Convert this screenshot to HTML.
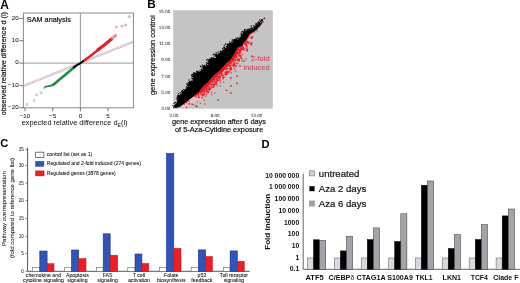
<!DOCTYPE html>
<html><head><meta charset="utf-8"><style>
html,body{margin:0;padding:0;background:#fff;width:520px;height:283px;overflow:hidden}
svg{display:block;font-family:"Liberation Sans", sans-serif;will-change:transform;filter:blur(0.3px)}
</style></head><body><svg width="520" height="283" viewBox="0 0 520 283"><rect x="0" y="0" width="520" height="283" fill="#fff"/><text x="0.20" y="8.60" font-size="12.0" text-anchor="start" font-weight="bold">A</text><rect x="23.40" y="13.00" width="110.00" height="94.80" fill="none" stroke="#8a8a8a" stroke-width="1"/><line x1="80.40" y1="13.00" x2="80.40" y2="107.80" stroke="#8a8a8a" stroke-width="0.9"/><line x1="23.40" y1="63.10" x2="133.40" y2="63.10" stroke="#8a8a8a" stroke-width="0.9"/><line x1="19.30" y1="18.40" x2="23.40" y2="18.40" stroke="#555" stroke-width="0.8"/><text x="18.60" y="19.70" font-size="6.2" text-anchor="end" fill="#222" stroke="#222" stroke-width="0.06">20</text><line x1="19.30" y1="40.75" x2="23.40" y2="40.75" stroke="#555" stroke-width="0.8"/><text x="18.60" y="42.05" font-size="6.2" text-anchor="end" fill="#222" stroke="#222" stroke-width="0.06">10</text><line x1="19.30" y1="63.10" x2="23.40" y2="63.10" stroke="#555" stroke-width="0.8"/><text x="18.60" y="64.40" font-size="6.2" text-anchor="end" fill="#222" stroke="#222" stroke-width="0.06">0</text><line x1="19.30" y1="85.45" x2="23.40" y2="85.45" stroke="#555" stroke-width="0.8"/><text x="18.60" y="86.75" font-size="6.2" text-anchor="end" fill="#222" stroke="#222" stroke-width="0.06">&#8722;10</text><line x1="19.30" y1="107.80" x2="23.40" y2="107.80" stroke="#555" stroke-width="0.8"/><text x="18.60" y="109.10" font-size="6.2" text-anchor="end" fill="#222" stroke="#222" stroke-width="0.06">&#8722;20</text><line x1="25.00" y1="107.80" x2="25.00" y2="111.30" stroke="#555" stroke-width="0.8"/><text x="25.00" y="118.20" font-size="6.2" text-anchor="middle" fill="#222" stroke="#222" stroke-width="0.06">&#8722;10</text><line x1="52.70" y1="107.80" x2="52.70" y2="111.30" stroke="#555" stroke-width="0.8"/><text x="52.70" y="118.20" font-size="6.2" text-anchor="middle" fill="#222" stroke="#222" stroke-width="0.06">&#8722;5</text><line x1="80.40" y1="107.80" x2="80.40" y2="111.30" stroke="#555" stroke-width="0.8"/><text x="80.40" y="118.20" font-size="6.2" text-anchor="middle" fill="#222" stroke="#222" stroke-width="0.06">0</text><line x1="108.10" y1="107.80" x2="108.10" y2="111.30" stroke="#555" stroke-width="0.8"/><text x="108.10" y="118.20" font-size="6.2" text-anchor="middle" fill="#222" stroke="#222" stroke-width="0.06">5</text><text x="26.80" y="21.60" font-size="7.4" text-anchor="start" fill="#111" stroke="#111" stroke-width="0.2" textLength="44.1" lengthAdjust="spacingAndGlyphs">SAM analysis</text><text x="21.7" y="125.2" font-size="7.4" fill="#111" textLength="105.8" lengthAdjust="spacingAndGlyphs">expected relative difference d<tspan font-size="5.2" dy="1.5">E</tspan><tspan dy="-1.5">(i)</tspan></text><text x="6.30" y="115.30" font-size="7.25" text-anchor="start" fill="#111" stroke="#111" stroke-width="0.2" textLength="103.2" lengthAdjust="spacingAndGlyphs" transform="rotate(-90 6.30 115.30)">observed relative difference d (i)</text><circle cx="23.34" cy="86.12" r="1.0" fill="none" stroke="#c8a0b2" stroke-width="0.6"/><circle cx="25.33" cy="85.32" r="1.0" fill="none" stroke="#c8a0b2" stroke-width="0.6"/><circle cx="27.33" cy="84.51" r="1.0" fill="none" stroke="#c8a0b2" stroke-width="0.6"/><circle cx="29.32" cy="83.71" r="1.0" fill="none" stroke="#c8a0b2" stroke-width="0.6"/><circle cx="31.32" cy="82.90" r="1.0" fill="none" stroke="#c8a0b2" stroke-width="0.6"/><circle cx="33.31" cy="82.10" r="1.0" fill="none" stroke="#c8a0b2" stroke-width="0.6"/><circle cx="35.30" cy="81.29" r="1.0" fill="none" stroke="#c8a0b2" stroke-width="0.6"/><circle cx="37.30" cy="80.49" r="1.0" fill="none" stroke="#c8a0b2" stroke-width="0.6"/><circle cx="39.29" cy="79.68" r="1.0" fill="none" stroke="#c8a0b2" stroke-width="0.6"/><circle cx="41.29" cy="78.88" r="1.0" fill="none" stroke="#c8a0b2" stroke-width="0.6"/><circle cx="43.28" cy="78.07" r="1.0" fill="none" stroke="#c8a0b2" stroke-width="0.6"/><circle cx="45.28" cy="77.27" r="1.0" fill="none" stroke="#c8a0b2" stroke-width="0.6"/><circle cx="47.27" cy="76.47" r="1.0" fill="none" stroke="#c8a0b2" stroke-width="0.6"/><circle cx="49.27" cy="75.66" r="1.0" fill="none" stroke="#c8a0b2" stroke-width="0.6"/><circle cx="51.26" cy="74.86" r="1.0" fill="none" stroke="#c8a0b2" stroke-width="0.6"/><circle cx="53.25" cy="74.05" r="1.0" fill="none" stroke="#c8a0b2" stroke-width="0.6"/><circle cx="55.25" cy="73.25" r="1.0" fill="none" stroke="#c8a0b2" stroke-width="0.6"/><circle cx="57.24" cy="72.44" r="1.0" fill="none" stroke="#c8a0b2" stroke-width="0.6"/><circle cx="59.24" cy="71.64" r="1.0" fill="none" stroke="#c8a0b2" stroke-width="0.6"/><circle cx="61.23" cy="70.83" r="1.0" fill="none" stroke="#c8a0b2" stroke-width="0.6"/><circle cx="63.23" cy="70.03" r="1.0" fill="none" stroke="#c8a0b2" stroke-width="0.6"/><circle cx="65.22" cy="69.22" r="1.0" fill="none" stroke="#c8a0b2" stroke-width="0.6"/><circle cx="67.21" cy="68.42" r="1.0" fill="none" stroke="#c8a0b2" stroke-width="0.6"/><circle cx="69.21" cy="67.61" r="1.0" fill="none" stroke="#c8a0b2" stroke-width="0.6"/><circle cx="71.20" cy="66.81" r="1.0" fill="none" stroke="#c8a0b2" stroke-width="0.6"/><circle cx="73.20" cy="66.01" r="1.0" fill="none" stroke="#c8a0b2" stroke-width="0.6"/><circle cx="75.19" cy="65.20" r="1.0" fill="none" stroke="#c8a0b2" stroke-width="0.6"/><circle cx="77.19" cy="64.40" r="1.0" fill="none" stroke="#c8a0b2" stroke-width="0.6"/><circle cx="79.18" cy="63.59" r="1.0" fill="none" stroke="#c8a0b2" stroke-width="0.6"/><circle cx="81.18" cy="62.79" r="1.0" fill="none" stroke="#c8a0b2" stroke-width="0.6"/><circle cx="83.17" cy="61.98" r="1.0" fill="none" stroke="#c8a0b2" stroke-width="0.6"/><circle cx="85.16" cy="61.18" r="1.0" fill="none" stroke="#c8a0b2" stroke-width="0.6"/><circle cx="87.16" cy="60.37" r="1.0" fill="none" stroke="#c8a0b2" stroke-width="0.6"/><circle cx="89.15" cy="59.57" r="1.0" fill="none" stroke="#c8a0b2" stroke-width="0.6"/><circle cx="91.15" cy="58.76" r="1.0" fill="none" stroke="#c8a0b2" stroke-width="0.6"/><circle cx="93.14" cy="57.96" r="1.0" fill="none" stroke="#c8a0b2" stroke-width="0.6"/><circle cx="95.14" cy="57.15" r="1.0" fill="none" stroke="#c8a0b2" stroke-width="0.6"/><circle cx="97.13" cy="56.35" r="1.0" fill="none" stroke="#c8a0b2" stroke-width="0.6"/><circle cx="99.13" cy="55.55" r="1.0" fill="none" stroke="#c8a0b2" stroke-width="0.6"/><circle cx="101.12" cy="54.74" r="1.0" fill="none" stroke="#c8a0b2" stroke-width="0.6"/><circle cx="103.11" cy="53.94" r="1.0" fill="none" stroke="#c8a0b2" stroke-width="0.6"/><circle cx="105.11" cy="53.13" r="1.0" fill="none" stroke="#c8a0b2" stroke-width="0.6"/><circle cx="107.10" cy="52.33" r="1.0" fill="none" stroke="#c8a0b2" stroke-width="0.6"/><circle cx="109.10" cy="51.52" r="1.0" fill="none" stroke="#c8a0b2" stroke-width="0.6"/><circle cx="111.09" cy="50.72" r="1.0" fill="none" stroke="#c8a0b2" stroke-width="0.6"/><circle cx="113.09" cy="49.91" r="1.0" fill="none" stroke="#c8a0b2" stroke-width="0.6"/><circle cx="115.08" cy="49.11" r="1.0" fill="none" stroke="#c8a0b2" stroke-width="0.6"/><circle cx="117.07" cy="48.30" r="1.0" fill="none" stroke="#c8a0b2" stroke-width="0.6"/><circle cx="119.07" cy="47.50" r="1.0" fill="none" stroke="#c8a0b2" stroke-width="0.6"/><circle cx="121.06" cy="46.70" r="1.0" fill="none" stroke="#c8a0b2" stroke-width="0.6"/><circle cx="123.06" cy="45.89" r="1.0" fill="none" stroke="#c8a0b2" stroke-width="0.6"/><circle cx="125.05" cy="45.09" r="1.0" fill="none" stroke="#c8a0b2" stroke-width="0.6"/><circle cx="127.05" cy="44.28" r="1.0" fill="none" stroke="#c8a0b2" stroke-width="0.6"/><circle cx="129.04" cy="43.48" r="1.0" fill="none" stroke="#c8a0b2" stroke-width="0.6"/><circle cx="131.04" cy="42.67" r="1.0" fill="none" stroke="#c8a0b2" stroke-width="0.6"/><circle cx="133.03" cy="41.87" r="1.0" fill="none" stroke="#c8a0b2" stroke-width="0.6"/><circle cx="116.4" cy="27.0" r="1.1" fill="#e6b0bc" stroke="#d898a6" stroke-width="0.6"/><circle cx="121.9" cy="26.1" r="1.1" fill="#e6b0bc" stroke="#d898a6" stroke-width="0.6"/><circle cx="125.7" cy="24.9" r="1.1" fill="#e6b0bc" stroke="#d898a6" stroke-width="0.6"/><circle cx="129.3" cy="16.6" r="1.1" fill="#e6b0bc" stroke="#d898a6" stroke-width="0.6"/><circle cx="26.9" cy="104.5" r="1.05" fill="none" stroke="#98bca4" stroke-width="0.8"/><circle cx="34.1" cy="100.6" r="1.05" fill="none" stroke="#98bca4" stroke-width="0.8"/><circle cx="36.6" cy="94.8" r="1.05" fill="none" stroke="#98bca4" stroke-width="0.8"/><circle cx="41.2" cy="92.9" r="1.05" fill="none" stroke="#98bca4" stroke-width="0.8"/><circle cx="44.3" cy="87.6" r="1.2" fill="#b4d4bc" stroke="#8fb89c" stroke-width="0.5"/><polyline points="45.5,86.9 47,86.4 50.5,85.8 53,84.8" fill="none" stroke="#2a9050" stroke-width="1.9" stroke-linecap="round" stroke-linejoin="round"/><polyline points="53,84.8 54,84.2 57.5,81.2 61,78.3 64.5,75.4 68,72.5 71.5,69.6 74,67.4" fill="none" stroke="#1f8c46" stroke-width="2.6" stroke-linecap="round" stroke-linejoin="round"/><polyline points="73.8,67.3 77,65.2 80.4,63.1 83,61.3 85.5,59.6" fill="none" stroke="#000" stroke-width="2.0" stroke-linecap="round"/><polyline points="85,60 88,57.8 92,54.7 96,51.6 99,49.1" fill="none" stroke="#e3222c" stroke-width="2.5" stroke-linecap="round" stroke-linejoin="round"/><polyline points="98,49.9 100,48.3 104,45.2 108,42 111.5,38.9" fill="none" stroke="#e3222c" stroke-width="3.3" stroke-linecap="round" stroke-linejoin="round"/><circle cx="112.6" cy="38.0" r="1.3" fill="#f0a0aa" stroke="#e06a78" stroke-width="0.5"/><circle cx="114.2" cy="36.6" r="1.3" fill="#f0a0aa" stroke="#e06a78" stroke-width="0.5"/><circle cx="115.6" cy="35.5" r="1.3" fill="#f0a0aa" stroke="#e06a78" stroke-width="0.5"/><text x="147.20" y="8.30" font-size="11.8" text-anchor="start" font-weight="bold">B</text><rect x="173.20" y="10.30" width="99.60" height="98.40" fill="#c4c4c4"/><text x="170.30" y="13.10" font-size="4.6" text-anchor="end" fill="#1a1a1a" text-rendering="geometricPrecision">15.00</text><text x="170.30" y="29.20" font-size="4.6" text-anchor="end" fill="#1a1a1a" text-rendering="geometricPrecision">13.00</text><text x="170.30" y="45.30" font-size="4.6" text-anchor="end" fill="#1a1a1a" text-rendering="geometricPrecision">11.00</text><text x="170.30" y="61.40" font-size="4.6" text-anchor="end" fill="#1a1a1a" text-rendering="geometricPrecision">9.00</text><text x="170.30" y="77.50" font-size="4.6" text-anchor="end" fill="#1a1a1a" text-rendering="geometricPrecision">7.00</text><text x="170.30" y="93.60" font-size="4.6" text-anchor="end" fill="#1a1a1a" text-rendering="geometricPrecision">5.00</text><text x="170.30" y="109.70" font-size="4.6" text-anchor="end" fill="#1a1a1a" text-rendering="geometricPrecision">3.00</text><text x="173.80" y="116.70" font-size="4.6" text-anchor="middle" fill="#1a1a1a" text-rendering="geometricPrecision">3.00</text><text x="215.15" y="116.70" font-size="4.6" text-anchor="middle" fill="#1a1a1a" text-rendering="geometricPrecision">8.00</text><text x="256.50" y="116.70" font-size="4.6" text-anchor="middle" fill="#1a1a1a" text-rendering="geometricPrecision">13.00</text><text x="172.00" y="123.90" font-size="7.35" text-anchor="start" fill="#111" stroke="#111" stroke-width="0.2" textLength="93.9" lengthAdjust="spacingAndGlyphs">gene expression after 6 days</text><text x="175.00" y="132.40" font-size="7.35" text-anchor="start" fill="#111" stroke="#111" stroke-width="0.2" textLength="88.2" lengthAdjust="spacingAndGlyphs">of 5-Aza-Cytidine exposure</text><text x="155.00" y="95.10" font-size="7.5" text-anchor="start" fill="#111" stroke="#111" stroke-width="0.2" textLength="79.8" lengthAdjust="spacingAndGlyphs" transform="rotate(-90 155.00 95.10)">gene expression control</text><text x="269.50" y="60.90" font-size="7.4" text-anchor="end" fill="#d23a4c" stroke="#d23a4c" stroke-width="0.05">2-fold</text><text x="269.50" y="69.60" font-size="7.4" text-anchor="end" fill="#d23a4c" stroke="#d23a4c" stroke-width="0.05">induced</text><polygon points="262.8,21.7 261.9,23.3 261.0,24.9 259.5,26.5 258.0,28.1 256.9,29.1 255.7,30.2 254.1,31.3 252.4,32.4 250.2,33.6 248.5,35.7 247.7,37.1 246.8,38.6 246.0,40.0 245.0,41.2 244.0,42.5 243.2,43.9 242.5,45.2 240.4,46.4 237.8,47.6 236.5,49.7 235.7,51.4 234.8,53.1 234.0,54.8 233.0,56.1 231.7,58.2 230.1,59.9 229.0,61.0 227.9,62.1 225.8,63.7 224.1,66.0 223.1,67.1 222.1,68.2 221.0,69.4 220.0,70.5 218.2,71.8 216.0,73.5 213.9,75.6 211.8,77.7 210.8,78.8 209.7,80.0 208.4,81.5 207.1,83.0 205.8,84.0 204.6,84.9 203.4,86.2 202.2,87.5 201.2,88.8 200.3,90.2 198.4,92.2 196.6,93.7 194.5,95.5 192.9,96.9 191.7,97.8 190.4,98.8 189.1,99.8 187.8,100.8 186.5,101.8 185.4,102.7 184.2,103.6 183.0,104.5 181.0,106.2 179.5,106.8 181.4,108.4 182.9,108.4 186.2,108.3 187.2,107.6 188.4,106.7 189.7,105.7 190.8,104.8 192.1,103.8 193.4,102.8 194.7,101.8 195.9,100.9 198.8,100.4 200.8,98.6 202.6,97.2 206.1,95.7 207.8,93.5 208.7,92.1 209.3,91.6 210.5,90.3 210.7,90.3 211.9,89.4 214.4,86.7 215.7,85.2 216.7,84.2 217.7,83.1 219.6,81.3 221.7,79.2 223.1,78.1 224.7,77.0 226.9,74.8 228.0,73.6 229.0,72.5 230.0,71.4 232.2,68.5 232.7,68.5 234.7,66.7 235.8,65.6 237.5,63.7 239.8,60.3 240.3,59.7 242.0,56.6 242.9,54.9 240.5,51.7 241.6,50.0 242.3,50.5 244.7,49.1 245.9,45.3 246.6,44.0 247.3,43.1 248.3,41.9 246.8,38.6 247.7,37.1 248.5,35.7 250.2,33.6 252.4,32.4 254.1,31.3 255.7,30.2 256.9,29.1 258.0,28.1 259.5,26.5 261.0,24.9 261.9,23.3 262.8,21.7" fill="#e8c2c8" opacity="0.9"/><polygon points="262.8,21.7 261.9,23.3 261.0,24.9 259.5,26.5 258.0,28.1 256.9,29.1 255.7,30.2 254.1,31.3 252.4,32.4 250.2,33.6 248.5,35.7 247.7,37.1 246.8,38.6 246.0,40.0 245.0,41.2 244.0,42.5 243.2,43.9 242.5,45.2 240.4,46.4 237.8,47.6 236.5,49.7 235.7,51.4 234.8,53.1 234.0,54.8 233.0,56.1 231.7,58.2 230.1,59.9 229.0,61.0 227.9,62.1 225.8,63.7 224.1,66.0 223.1,67.1 222.1,68.2 221.0,69.4 220.0,70.5 218.2,71.8 216.0,73.5 213.9,75.6 211.8,77.7 210.8,78.8 209.7,80.0 208.4,81.5 207.1,83.0 205.8,84.0 204.6,84.9 203.4,86.2 202.2,87.5 201.2,88.8 200.3,90.2 198.4,92.2 196.6,93.7 194.5,95.5 192.9,96.9 191.7,97.8 190.4,98.8 189.1,99.8 187.8,100.8 186.5,101.8 185.4,102.7 184.2,103.6 183.0,104.5 181.0,106.2 179.5,106.8 179.5,106.8 181.0,106.2 183.0,104.5 184.2,103.6 185.4,102.7 186.5,101.8 187.8,100.8 189.1,99.8 190.4,98.8 191.7,97.8 192.9,96.9 195.5,96.6 197.6,94.8 199.4,93.4 202.5,92.3 203.7,90.6 204.7,89.2 205.6,88.2 206.8,86.9 207.7,86.3 208.9,85.4 210.7,83.5 212.0,82.0 213.0,80.9 214.0,79.7 216.0,77.7 218.1,75.6 220.0,74.2 221.8,72.9 223.2,71.4 224.3,70.3 225.3,69.1 226.3,68.0 228.2,65.5 229.7,64.5 231.1,63.1 232.2,62.0 233.9,60.3 235.6,57.7 236.4,56.6 237.5,54.4 238.4,52.7 237.8,50.4 239.1,48.4 241.0,47.8 243.2,46.5 243.2,43.9 244.0,42.5 245.0,41.2 246.0,40.0 246.8,38.6 247.7,37.1 248.5,35.7 250.2,33.6 252.4,32.4 254.1,31.3 255.7,30.2 256.9,29.1 258.0,28.1 259.5,26.5 261.0,24.9 261.9,23.3 262.8,21.7" fill="#e8141c"/><rect x="261.6" y="21.1" width="1.4" height="1.4" fill="#ea1e28"/><rect x="262.3" y="21.4" width="1.4" height="1.4" fill="#ea1e28"/><rect x="259.5" y="23.7" width="1.4" height="1.4" fill="#ea1e28"/><rect x="258.3" y="25.7" width="1.4" height="1.4" fill="#ea1e28"/><rect x="256.1" y="28.5" width="1.4" height="1.4" fill="#ea1e28"/><rect x="256.1" y="28.4" width="1.4" height="1.4" fill="#ea1e28"/><rect x="255.0" y="29.2" width="1.4" height="1.4" fill="#ea1e28"/><rect x="253.8" y="31.1" width="1.4" height="1.4" fill="#ea1e28"/><rect x="250.4" y="32.5" width="1.4" height="1.4" fill="#ea1e28"/><rect x="250.4" y="32.9" width="1.4" height="1.4" fill="#ea1e28"/><rect x="250.0" y="32.5" width="1.4" height="1.4" fill="#ea1e28"/><rect x="249.6" y="32.9" width="1.4" height="1.4" fill="#ea1e28"/><rect x="247.7" y="35.4" width="1.4" height="1.4" fill="#ea1e28"/><rect x="247.9" y="34.8" width="1.4" height="1.4" fill="#ea1e28"/><rect x="246.8" y="34.8" width="1.4" height="1.4" fill="#ea1e28"/><rect x="246.9" y="36.0" width="1.4" height="1.4" fill="#ea1e28"/><rect x="246.8" y="36.0" width="1.4" height="1.4" fill="#ea1e28"/><rect x="247.1" y="36.5" width="1.4" height="1.4" fill="#ea1e28"/><rect x="247.0" y="37.1" width="1.4" height="1.4" fill="#ea1e28"/><rect x="246.5" y="37.2" width="1.4" height="1.4" fill="#ea1e28"/><rect x="246.5" y="37.1" width="1.4" height="1.4" fill="#ea1e28"/><rect x="246.3" y="37.8" width="1.4" height="1.4" fill="#ea1e28"/><rect x="246.0" y="37.3" width="1.4" height="1.4" fill="#ea1e28"/><rect x="246.0" y="37.5" width="1.4" height="1.4" fill="#ea1e28"/><rect x="245.0" y="39.0" width="1.4" height="1.4" fill="#ea1e28"/><rect x="245.8" y="39.0" width="1.4" height="1.4" fill="#ea1e28"/><rect x="248.0" y="41.7" width="1.4" height="1.4" fill="#ea1e28"/><rect x="246.2" y="40.5" width="1.4" height="1.4" fill="#ea1e28"/><rect x="247.0" y="41.0" width="1.4" height="1.4" fill="#ea1e28"/><rect x="246.4" y="41.5" width="1.4" height="1.4" fill="#ea1e28"/><rect x="245.1" y="40.5" width="1.4" height="1.4" fill="#ea1e28"/><rect x="246.4" y="42.2" width="1.4" height="1.4" fill="#ea1e28"/><rect x="245.3" y="42.2" width="1.4" height="1.4" fill="#ea1e28"/><rect x="244.4" y="41.3" width="1.4" height="1.4" fill="#ea1e28"/><rect x="244.3" y="41.3" width="1.4" height="1.4" fill="#ea1e28"/><rect x="245.6" y="43.6" width="1.4" height="1.4" fill="#ea1e28"/><rect x="244.6" y="42.8" width="1.4" height="1.4" fill="#ea1e28"/><rect x="245.7" y="43.9" width="1.4" height="1.4" fill="#ea1e28"/><rect x="244.1" y="43.9" width="1.4" height="1.4" fill="#ea1e28"/><rect x="243.6" y="43.3" width="1.4" height="1.4" fill="#ea1e28"/><rect x="246.1" y="45.1" width="1.4" height="1.4" fill="#ea1e28"/><rect x="245.6" y="45.5" width="1.4" height="1.4" fill="#ea1e28"/><rect x="246.0" y="46.1" width="1.4" height="1.4" fill="#ea1e28"/><rect x="242.6" y="46.3" width="1.4" height="1.4" fill="#ea1e28"/><rect x="242.6" y="46.3" width="1.4" height="1.4" fill="#ea1e28"/><rect x="243.1" y="48.1" width="1.4" height="1.4" fill="#ea1e28"/><rect x="241.7" y="46.8" width="1.4" height="1.4" fill="#ea1e28"/><rect x="242.3" y="47.8" width="1.4" height="1.4" fill="#ea1e28"/><rect x="241.2" y="48.7" width="1.4" height="1.4" fill="#ea1e28"/><rect x="240.7" y="47.9" width="1.4" height="1.4" fill="#ea1e28"/><rect x="240.6" y="48.9" width="1.4" height="1.4" fill="#ea1e28"/><rect x="239.7" y="48.2" width="1.4" height="1.4" fill="#ea1e28"/><rect x="239.7" y="48.8" width="1.4" height="1.4" fill="#ea1e28"/><rect x="240.0" y="49.7" width="1.4" height="1.4" fill="#ea1e28"/><rect x="239.5" y="49.6" width="1.4" height="1.4" fill="#ea1e28"/><rect x="238.8" y="49.0" width="1.4" height="1.4" fill="#ea1e28"/><rect x="238.9" y="50.1" width="1.4" height="1.4" fill="#ea1e28"/><rect x="240.2" y="48.6" width="1.4" height="1.4" fill="#ea1e28"/><rect x="240.5" y="49.0" width="1.4" height="1.4" fill="#ea1e28"/><rect x="238.2" y="49.1" width="1.4" height="1.4" fill="#ea1e28"/><rect x="239.6" y="49.4" width="1.4" height="1.4" fill="#ea1e28"/><rect x="237.7" y="49.1" width="1.4" height="1.4" fill="#ea1e28"/><rect x="237.7" y="49.4" width="1.4" height="1.4" fill="#ea1e28"/><rect x="239.4" y="50.5" width="1.4" height="1.4" fill="#ea1e28"/><rect x="237.9" y="49.4" width="1.4" height="1.4" fill="#ea1e28"/><rect x="239.2" y="51.0" width="1.4" height="1.4" fill="#ea1e28"/><rect x="238.6" y="50.7" width="1.4" height="1.4" fill="#ea1e28"/><rect x="239.8" y="52.0" width="1.4" height="1.4" fill="#ea1e28"/><rect x="238.4" y="51.9" width="1.4" height="1.4" fill="#ea1e28"/><rect x="238.3" y="52.2" width="1.4" height="1.4" fill="#ea1e28"/><rect x="239.1" y="52.6" width="1.4" height="1.4" fill="#ea1e28"/><rect x="237.7" y="52.9" width="1.4" height="1.4" fill="#ea1e28"/><rect x="238.4" y="54.4" width="1.4" height="1.4" fill="#ea1e28"/><rect x="240.2" y="55.1" width="1.4" height="1.4" fill="#ea1e28"/><rect x="238.9" y="55.1" width="1.4" height="1.4" fill="#ea1e28"/><rect x="239.1" y="54.5" width="1.4" height="1.4" fill="#ea1e28"/><rect x="237.7" y="55.2" width="1.4" height="1.4" fill="#ea1e28"/><rect x="240.5" y="57.0" width="1.4" height="1.4" fill="#ea1e28"/><rect x="239.7" y="55.8" width="1.4" height="1.4" fill="#ea1e28"/><rect x="241.0" y="57.7" width="1.4" height="1.4" fill="#ea1e28"/><rect x="238.8" y="58.4" width="1.4" height="1.4" fill="#ea1e28"/><rect x="236.1" y="56.8" width="1.4" height="1.4" fill="#ea1e28"/><rect x="238.3" y="58.8" width="1.4" height="1.4" fill="#ea1e28"/><rect x="236.3" y="58.8" width="1.4" height="1.4" fill="#ea1e28"/><rect x="237.2" y="58.3" width="1.4" height="1.4" fill="#ea1e28"/><rect x="237.7" y="59.5" width="1.4" height="1.4" fill="#ea1e28"/><rect x="238.3" y="59.9" width="1.4" height="1.4" fill="#ea1e28"/><rect x="236.9" y="59.8" width="1.4" height="1.4" fill="#ea1e28"/><rect x="237.5" y="59.7" width="1.4" height="1.4" fill="#ea1e28"/><rect x="233.9" y="59.4" width="1.4" height="1.4" fill="#ea1e28"/><rect x="234.5" y="58.8" width="1.4" height="1.4" fill="#ea1e28"/><rect x="234.8" y="60.7" width="1.4" height="1.4" fill="#ea1e28"/><rect x="237.1" y="62.9" width="1.4" height="1.4" fill="#ea1e28"/><rect x="232.5" y="60.5" width="1.4" height="1.4" fill="#ea1e28"/><rect x="233.1" y="62.0" width="1.4" height="1.4" fill="#ea1e28"/><rect x="234.2" y="62.9" width="1.4" height="1.4" fill="#ea1e28"/><rect x="235.3" y="64.8" width="1.4" height="1.4" fill="#ea1e28"/><rect x="232.7" y="62.2" width="1.4" height="1.4" fill="#ea1e28"/><rect x="233.6" y="63.8" width="1.4" height="1.4" fill="#ea1e28"/><rect x="233.7" y="64.7" width="1.4" height="1.4" fill="#ea1e28"/><rect x="233.0" y="64.6" width="1.4" height="1.4" fill="#ea1e28"/><rect x="231.3" y="63.4" width="1.4" height="1.4" fill="#ea1e28"/><rect x="232.0" y="64.8" width="1.4" height="1.4" fill="#ea1e28"/><rect x="233.2" y="66.1" width="1.4" height="1.4" fill="#ea1e28"/><rect x="230.2" y="62.9" width="1.4" height="1.4" fill="#ea1e28"/><rect x="230.1" y="65.0" width="1.4" height="1.4" fill="#ea1e28"/><rect x="229.6" y="65.9" width="1.4" height="1.4" fill="#ea1e28"/><rect x="228.8" y="65.3" width="1.4" height="1.4" fill="#ea1e28"/><rect x="228.0" y="64.3" width="1.4" height="1.4" fill="#ea1e28"/><rect x="230.4" y="67.7" width="1.4" height="1.4" fill="#ea1e28"/><rect x="229.4" y="68.4" width="1.4" height="1.4" fill="#ea1e28"/><rect x="229.7" y="67.7" width="1.4" height="1.4" fill="#ea1e28"/><rect x="228.1" y="65.1" width="1.4" height="1.4" fill="#ea1e28"/><rect x="230.5" y="67.2" width="1.4" height="1.4" fill="#ea1e28"/><rect x="230.8" y="68.2" width="1.4" height="1.4" fill="#ea1e28"/><rect x="226.5" y="65.6" width="1.4" height="1.4" fill="#ea1e28"/><rect x="230.1" y="68.2" width="1.4" height="1.4" fill="#ea1e28"/><rect x="229.4" y="67.8" width="1.4" height="1.4" fill="#ea1e28"/><rect x="228.3" y="68.0" width="1.4" height="1.4" fill="#ea1e28"/><rect x="229.9" y="69.5" width="1.4" height="1.4" fill="#ea1e28"/><rect x="226.2" y="67.9" width="1.4" height="1.4" fill="#ea1e28"/><rect x="226.6" y="67.7" width="1.4" height="1.4" fill="#ea1e28"/><rect x="228.4" y="71.1" width="1.4" height="1.4" fill="#ea1e28"/><rect x="227.4" y="70.9" width="1.4" height="1.4" fill="#ea1e28"/><rect x="225.4" y="68.8" width="1.4" height="1.4" fill="#ea1e28"/><rect x="227.7" y="71.6" width="1.4" height="1.4" fill="#ea1e28"/><rect x="226.3" y="70.7" width="1.4" height="1.4" fill="#ea1e28"/><rect x="225.7" y="70.7" width="1.4" height="1.4" fill="#ea1e28"/><rect x="227.3" y="71.8" width="1.4" height="1.4" fill="#ea1e28"/><rect x="226.0" y="71.8" width="1.4" height="1.4" fill="#ea1e28"/><rect x="226.0" y="73.3" width="1.4" height="1.4" fill="#ea1e28"/><rect x="226.1" y="72.9" width="1.4" height="1.4" fill="#ea1e28"/><rect x="224.5" y="71.8" width="1.4" height="1.4" fill="#ea1e28"/><rect x="225.2" y="72.8" width="1.4" height="1.4" fill="#ea1e28"/><rect x="225.1" y="74.0" width="1.4" height="1.4" fill="#ea1e28"/><rect x="225.0" y="73.4" width="1.4" height="1.4" fill="#ea1e28"/><rect x="224.2" y="73.5" width="1.4" height="1.4" fill="#ea1e28"/><rect x="221.2" y="72.8" width="1.4" height="1.4" fill="#ea1e28"/><rect x="222.0" y="74.5" width="1.4" height="1.4" fill="#ea1e28"/><rect x="222.6" y="75.1" width="1.4" height="1.4" fill="#ea1e28"/><rect x="220.9" y="73.3" width="1.4" height="1.4" fill="#ea1e28"/><rect x="220.7" y="74.4" width="1.4" height="1.4" fill="#ea1e28"/><rect x="221.4" y="74.7" width="1.4" height="1.4" fill="#ea1e28"/><rect x="222.0" y="77.1" width="1.4" height="1.4" fill="#ea1e28"/><rect x="222.5" y="76.8" width="1.4" height="1.4" fill="#ea1e28"/><rect x="218.5" y="73.7" width="1.4" height="1.4" fill="#ea1e28"/><rect x="220.0" y="75.5" width="1.4" height="1.4" fill="#ea1e28"/><rect x="219.4" y="76.9" width="1.4" height="1.4" fill="#ea1e28"/><rect x="219.1" y="75.7" width="1.4" height="1.4" fill="#ea1e28"/><rect x="218.0" y="76.1" width="1.4" height="1.4" fill="#ea1e28"/><rect x="217.2" y="75.7" width="1.4" height="1.4" fill="#ea1e28"/><rect x="218.6" y="76.4" width="1.4" height="1.4" fill="#ea1e28"/><rect x="217.6" y="76.3" width="1.4" height="1.4" fill="#ea1e28"/><rect x="218.8" y="77.5" width="1.4" height="1.4" fill="#ea1e28"/><rect x="218.2" y="78.3" width="1.4" height="1.4" fill="#ea1e28"/><rect x="219.5" y="79.3" width="1.4" height="1.4" fill="#ea1e28"/><rect x="216.5" y="77.1" width="1.4" height="1.4" fill="#ea1e28"/><rect x="217.9" y="79.7" width="1.4" height="1.4" fill="#ea1e28"/><rect x="215.9" y="77.4" width="1.4" height="1.4" fill="#ea1e28"/><rect x="216.4" y="78.9" width="1.4" height="1.4" fill="#ea1e28"/><rect x="217.1" y="79.7" width="1.4" height="1.4" fill="#ea1e28"/><rect x="215.8" y="78.5" width="1.4" height="1.4" fill="#ea1e28"/><rect x="215.9" y="79.0" width="1.4" height="1.4" fill="#ea1e28"/><rect x="216.3" y="80.5" width="1.4" height="1.4" fill="#ea1e28"/><rect x="214.2" y="78.8" width="1.4" height="1.4" fill="#ea1e28"/><rect x="213.4" y="79.0" width="1.4" height="1.4" fill="#ea1e28"/><rect x="215.2" y="80.7" width="1.4" height="1.4" fill="#ea1e28"/><rect x="213.9" y="80.4" width="1.4" height="1.4" fill="#ea1e28"/><rect x="215.3" y="81.8" width="1.4" height="1.4" fill="#ea1e28"/><rect x="215.7" y="82.4" width="1.4" height="1.4" fill="#ea1e28"/><rect x="215.8" y="83.4" width="1.4" height="1.4" fill="#ea1e28"/><rect x="213.8" y="82.9" width="1.4" height="1.4" fill="#ea1e28"/><rect x="212.9" y="81.6" width="1.4" height="1.4" fill="#ea1e28"/><rect x="212.3" y="81.4" width="1.4" height="1.4" fill="#ea1e28"/><rect x="214.6" y="83.4" width="1.4" height="1.4" fill="#ea1e28"/><rect x="213.1" y="84.1" width="1.4" height="1.4" fill="#ea1e28"/><rect x="213.1" y="84.4" width="1.4" height="1.4" fill="#ea1e28"/><rect x="211.8" y="83.1" width="1.4" height="1.4" fill="#ea1e28"/><rect x="212.8" y="84.9" width="1.4" height="1.4" fill="#ea1e28"/><rect x="213.3" y="85.8" width="1.4" height="1.4" fill="#ea1e28"/><rect x="210.1" y="83.4" width="1.4" height="1.4" fill="#ea1e28"/><rect x="211.2" y="84.3" width="1.4" height="1.4" fill="#ea1e28"/><rect x="210.6" y="84.0" width="1.4" height="1.4" fill="#ea1e28"/><rect x="212.6" y="86.5" width="1.4" height="1.4" fill="#ea1e28"/><rect x="211.2" y="86.4" width="1.4" height="1.4" fill="#ea1e28"/><rect x="210.3" y="87.0" width="1.4" height="1.4" fill="#ea1e28"/><rect x="209.1" y="86.1" width="1.4" height="1.4" fill="#ea1e28"/><rect x="209.7" y="88.3" width="1.4" height="1.4" fill="#ea1e28"/><rect x="207.6" y="86.1" width="1.4" height="1.4" fill="#ea1e28"/><rect x="209.3" y="88.3" width="1.4" height="1.4" fill="#ea1e28"/><rect x="207.6" y="87.3" width="1.4" height="1.4" fill="#ea1e28"/><rect x="207.3" y="87.7" width="1.4" height="1.4" fill="#ea1e28"/><rect x="208.6" y="89.8" width="1.4" height="1.4" fill="#ea1e28"/><rect x="209.0" y="88.4" width="1.4" height="1.4" fill="#ea1e28"/><rect x="208.1" y="88.9" width="1.4" height="1.4" fill="#ea1e28"/><rect x="206.0" y="87.3" width="1.4" height="1.4" fill="#ea1e28"/><rect x="205.8" y="87.8" width="1.4" height="1.4" fill="#ea1e28"/><rect x="206.3" y="89.3" width="1.4" height="1.4" fill="#ea1e28"/><rect x="206.2" y="88.3" width="1.4" height="1.4" fill="#ea1e28"/><rect x="205.4" y="89.0" width="1.4" height="1.4" fill="#ea1e28"/><rect x="204.3" y="88.4" width="1.4" height="1.4" fill="#ea1e28"/><rect x="207.2" y="90.9" width="1.4" height="1.4" fill="#ea1e28"/><rect x="206.1" y="90.4" width="1.4" height="1.4" fill="#ea1e28"/><rect x="204.5" y="89.3" width="1.4" height="1.4" fill="#ea1e28"/><rect x="206.9" y="91.6" width="1.4" height="1.4" fill="#ea1e28"/><rect x="207.9" y="91.6" width="1.4" height="1.4" fill="#ea1e28"/><rect x="206.1" y="90.9" width="1.4" height="1.4" fill="#ea1e28"/><rect x="203.5" y="90.1" width="1.4" height="1.4" fill="#ea1e28"/><rect x="204.2" y="90.8" width="1.4" height="1.4" fill="#ea1e28"/><rect x="203.7" y="91.2" width="1.4" height="1.4" fill="#ea1e28"/><rect x="203.4" y="90.9" width="1.4" height="1.4" fill="#ea1e28"/><rect x="205.8" y="93.5" width="1.4" height="1.4" fill="#ea1e28"/><rect x="203.4" y="92.7" width="1.4" height="1.4" fill="#ea1e28"/><rect x="203.5" y="93.8" width="1.4" height="1.4" fill="#ea1e28"/><rect x="201.3" y="92.4" width="1.4" height="1.4" fill="#ea1e28"/><rect x="202.6" y="93.4" width="1.4" height="1.4" fill="#ea1e28"/><rect x="201.5" y="94.0" width="1.4" height="1.4" fill="#ea1e28"/><rect x="201.7" y="94.9" width="1.4" height="1.4" fill="#ea1e28"/><rect x="202.4" y="94.9" width="1.4" height="1.4" fill="#ea1e28"/><rect x="199.7" y="93.3" width="1.4" height="1.4" fill="#ea1e28"/><rect x="197.9" y="93.5" width="1.4" height="1.4" fill="#ea1e28"/><rect x="201.1" y="96.9" width="1.4" height="1.4" fill="#ea1e28"/><rect x="197.7" y="94.3" width="1.4" height="1.4" fill="#ea1e28"/><rect x="197.6" y="93.7" width="1.4" height="1.4" fill="#ea1e28"/><rect x="197.9" y="96.4" width="1.4" height="1.4" fill="#ea1e28"/><rect x="197.8" y="95.5" width="1.4" height="1.4" fill="#ea1e28"/><rect x="198.3" y="96.9" width="1.4" height="1.4" fill="#ea1e28"/><rect x="195.3" y="96.2" width="1.4" height="1.4" fill="#ea1e28"/><rect x="191.4" y="103.4" width="1.4" height="1.4" fill="#ea1e28"/><rect x="188.1" y="100.7" width="1.4" height="1.4" fill="#ea1e28"/><rect x="188.8" y="103.0" width="1.4" height="1.4" fill="#ea1e28"/><rect x="185.9" y="102.0" width="1.4" height="1.4" fill="#ea1e28"/><rect x="183.4" y="103.3" width="1.4" height="1.4" fill="#ea1e28"/><rect x="185.8" y="106.7" width="1.4" height="1.4" fill="#ea1e28"/><rect x="256.6" y="30.5" width="1.3" height="1.3" fill="#d8404c"/><rect x="252.3" y="31.6" width="1.3" height="1.3" fill="#d8404c"/><rect x="249.5" y="33.0" width="1.3" height="1.3" fill="#d8404c"/><rect x="248.8" y="35.0" width="1.3" height="1.3" fill="#d8404c"/><rect x="248.5" y="42.3" width="1.3" height="1.3" fill="#d8404c"/><rect x="248.2" y="42.6" width="1.3" height="1.3" fill="#d8404c"/><rect x="243.6" y="49.3" width="1.3" height="1.3" fill="#d8404c"/><rect x="245.2" y="58.3" width="1.3" height="1.3" fill="#d8404c"/><rect x="240.5" y="49.1" width="1.3" height="1.3" fill="#d8404c"/><rect x="239.8" y="51.2" width="1.3" height="1.3" fill="#d8404c"/><rect x="241.9" y="53.8" width="1.3" height="1.3" fill="#d8404c"/><rect x="241.1" y="60.1" width="1.3" height="1.3" fill="#d8404c"/><rect x="238.4" y="60.2" width="1.3" height="1.3" fill="#d8404c"/><rect x="236.0" y="62.5" width="1.3" height="1.3" fill="#d8404c"/><rect x="235.5" y="66.1" width="1.3" height="1.3" fill="#d8404c"/><rect x="235.1" y="70.3" width="1.3" height="1.3" fill="#d8404c"/><rect x="233.7" y="68.5" width="1.3" height="1.3" fill="#d8404c"/><rect x="230.7" y="72.2" width="1.3" height="1.3" fill="#d8404c"/><rect x="227.6" y="72.2" width="1.3" height="1.3" fill="#d8404c"/><rect x="224.1" y="76.5" width="1.3" height="1.3" fill="#d8404c"/><rect x="222.7" y="78.2" width="1.3" height="1.3" fill="#d8404c"/><rect x="223.0" y="81.4" width="1.3" height="1.3" fill="#d8404c"/><rect x="219.7" y="81.4" width="1.3" height="1.3" fill="#d8404c"/><rect x="219.6" y="85.3" width="1.3" height="1.3" fill="#d8404c"/><rect x="216.6" y="85.1" width="1.3" height="1.3" fill="#d8404c"/><rect x="214.0" y="92.7" width="1.3" height="1.3" fill="#d8404c"/><rect x="210.9" y="91.5" width="1.3" height="1.3" fill="#d8404c"/><rect x="211.2" y="94.0" width="1.3" height="1.3" fill="#d8404c"/><rect x="204.8" y="95.4" width="1.3" height="1.3" fill="#d8404c"/><rect x="203.7" y="99.4" width="1.3" height="1.3" fill="#d8404c"/><rect x="204.2" y="103.4" width="1.3" height="1.3" fill="#d8404c"/><rect x="199.7" y="102.7" width="1.3" height="1.3" fill="#d8404c"/><rect x="196.8" y="101.1" width="1.3" height="1.3" fill="#d8404c"/><rect x="196.5" y="106.2" width="1.3" height="1.3" fill="#d8404c"/><rect x="192.8" y="104.0" width="1.3" height="1.3" fill="#d8404c"/><rect x="188.6" y="103.3" width="1.3" height="1.3" fill="#d8404c"/><rect x="195.2" y="105.2" width="1.6" height="1.6" fill="#d82a36"/><rect x="217.2" y="99.0" width="1.6" height="1.6" fill="#d82a36"/><rect x="230.1" y="77.2" width="1.6" height="1.6" fill="#d82a36"/><rect x="236.3" y="75.4" width="1.6" height="1.6" fill="#d82a36"/><rect x="230.1" y="85.1" width="1.6" height="1.6" fill="#d82a36"/><rect x="236.3" y="82.5" width="1.6" height="1.6" fill="#d82a36"/><rect x="225.7" y="89.5" width="1.6" height="1.6" fill="#d82a36"/><rect x="230.1" y="92.2" width="1.6" height="1.6" fill="#d82a36"/><rect x="241.0" y="47.5" width="1.6" height="1.6" fill="#d82a36"/><rect x="250.7" y="42.2" width="1.6" height="1.6" fill="#d82a36"/><rect x="235.7" y="56.3" width="1.6" height="1.6" fill="#d82a36"/><rect x="246.3" y="50.1" width="1.6" height="1.6" fill="#d82a36"/><rect x="251.6" y="36.0" width="1.6" height="1.6" fill="#d82a36"/><rect x="250.7" y="36.9" width="1.6" height="1.6" fill="#d82a36"/><rect x="250.2" y="43.3" width="1.6" height="1.6" fill="#d82a36"/><rect x="243.2" y="60.2" width="1.6" height="1.6" fill="#d82a36"/><rect x="239.2" y="65.2" width="1.6" height="1.6" fill="#d82a36"/><rect x="242.7" y="48.7" width="1.6" height="1.6" fill="#d82a36"/><rect x="245.7" y="47.7" width="1.6" height="1.6" fill="#d82a36"/><rect x="241.2" y="48.0" width="1.6" height="1.6" fill="#d82a36"/><rect x="246.5" y="49.0" width="1.6" height="1.6" fill="#d82a36"/><rect x="233.7" y="57.5" width="1.6" height="1.6" fill="#d82a36"/><rect x="238.0" y="59.1" width="1.6" height="1.6" fill="#d82a36"/><rect x="250.7" y="43.7" width="1.6" height="1.6" fill="#d82a36"/><rect x="251.2" y="55.4" width="1.6" height="1.6" fill="#d82a36"/><rect x="250.7" y="37.4" width="1.6" height="1.6" fill="#d82a36"/><polygon points="173.0,107.6 174.5,104.5 175.8,102.7 177.4,99.0 178.1,96.8 179.5,95.1 181.3,93.5 182.4,91.5 184.1,90.1 186.0,88.4 187.3,84.5 188.5,82.6 189.4,80.8 191.5,80.1 192.4,77.1 193.6,73.5 196.2,72.0 199.0,70.2 201.8,68.5 202.8,66.4 205.3,65.3 207.1,63.0 208.5,60.5 209.2,58.6 211.5,58.8 213.6,57.2 214.9,54.7 215.7,53.8 218.0,53.2 220.5,51.8 222.2,49.3 224.8,47.6 226.1,45.9 228.2,44.2 230.0,42.5 232.5,40.8 234.5,39.8 237.1,38.4 239.2,36.9 240.5,34.6 242.2,32.9 244.0,31.8 246.2,30.8 247.7,30.2 249.4,29.0 251.5,28.1 253.6,26.8 255.3,24.9 258.0,22.7 261.0,20.6 263.5,18.3 262.8,21.7 261.0,24.9 258.0,28.1 255.7,30.2 252.4,32.4 250.2,33.6 248.5,35.7 246.0,40.0 244.0,42.5 242.5,45.2 240.4,46.4 237.8,47.6 236.5,49.7 234.0,54.8 233.0,56.1 231.7,58.2 230.1,59.9 227.9,62.1 225.8,63.7 224.1,66.0 220.0,70.5 218.2,71.8 216.0,73.5 213.9,75.6 211.8,77.7 209.7,80.0 207.1,83.0 204.6,84.9 202.2,87.5 200.3,90.2 198.4,92.2 196.6,93.7 194.5,95.5 192.9,96.9 190.4,98.8 189.1,99.8 186.5,101.8 185.4,102.7 183.0,104.5 181.0,106.2 178.0,107.4 173.2,108.2" fill="#000"/><rect x="173.3" y="106.5" width="1.0" height="1.0" fill="#c4c4c4"/><rect x="172.3" y="105.0" width="1.2" height="1.2" fill="#000"/><rect x="174.2" y="104.2" width="1.0" height="1.0" fill="#c4c4c4"/><rect x="173.6" y="102.8" width="1.2" height="1.2" fill="#000"/><rect x="175.1" y="103.0" width="1.0" height="1.0" fill="#c4c4c4"/><rect x="174.7" y="101.9" width="1.2" height="1.2" fill="#000"/><rect x="176.1" y="101.7" width="1.0" height="1.0" fill="#c4c4c4"/><rect x="176.0" y="100.7" width="1.0" height="1.0" fill="#c4c4c4"/><rect x="176.6" y="100.1" width="1.0" height="1.0" fill="#c4c4c4"/><rect x="176.5" y="99.1" width="1.2" height="1.2" fill="#000"/><rect x="176.2" y="97.4" width="1.2" height="1.2" fill="#000"/><rect x="177.1" y="96.9" width="1.2" height="1.2" fill="#000"/><rect x="177.0" y="95.8" width="1.2" height="1.2" fill="#000"/><rect x="177.3" y="95.1" width="1.2" height="1.2" fill="#000"/><rect x="178.1" y="94.8" width="1.2" height="1.2" fill="#000"/><rect x="177.8" y="93.2" width="1.2" height="1.2" fill="#000"/><rect x="179.6" y="92.3" width="1.2" height="1.2" fill="#000"/><rect x="181.0" y="91.3" width="1.2" height="1.2" fill="#000"/><rect x="181.4" y="90.4" width="1.2" height="1.2" fill="#000"/><rect x="182.0" y="90.0" width="1.2" height="1.2" fill="#000"/><rect x="183.1" y="90.1" width="1.0" height="1.0" fill="#c4c4c4"/><rect x="183.2" y="89.1" width="1.2" height="1.2" fill="#000"/><rect x="185.7" y="86.2" width="1.2" height="1.2" fill="#000"/><rect x="186.9" y="85.8" width="1.0" height="1.0" fill="#c4c4c4"/><rect x="186.4" y="83.7" width="1.2" height="1.2" fill="#000"/><rect x="186.5" y="82.9" width="1.2" height="1.2" fill="#000"/><rect x="187.7" y="82.8" width="1.0" height="1.0" fill="#c4c4c4"/><rect x="187.9" y="82.0" width="1.2" height="1.2" fill="#000"/><rect x="188.5" y="79.4" width="1.2" height="1.2" fill="#000"/><rect x="189.7" y="80.3" width="1.0" height="1.0" fill="#c4c4c4"/><rect x="190.3" y="79.9" width="1.0" height="1.0" fill="#c4c4c4"/><rect x="191.6" y="79.8" width="1.0" height="1.0" fill="#c4c4c4"/><rect x="191.5" y="78.9" width="1.0" height="1.0" fill="#c4c4c4"/><rect x="191.3" y="77.2" width="1.2" height="1.2" fill="#000"/><rect x="192.2" y="76.7" width="1.0" height="1.0" fill="#c4c4c4"/><rect x="191.8" y="75.7" width="1.2" height="1.2" fill="#000"/><rect x="191.0" y="74.6" width="1.2" height="1.2" fill="#000"/><rect x="191.8" y="74.1" width="1.2" height="1.2" fill="#000"/><rect x="192.8" y="72.6" width="1.2" height="1.2" fill="#000"/><rect x="193.6" y="72.5" width="1.2" height="1.2" fill="#000"/><rect x="194.3" y="72.1" width="1.2" height="1.2" fill="#000"/><rect x="195.2" y="72.1" width="1.0" height="1.0" fill="#c4c4c4"/><rect x="196.1" y="70.7" width="1.2" height="1.2" fill="#000"/><rect x="197.9" y="70.3" width="1.0" height="1.0" fill="#c4c4c4"/><rect x="199.1" y="70.6" width="1.0" height="1.0" fill="#c4c4c4"/><rect x="199.6" y="70.0" width="1.0" height="1.0" fill="#c4c4c4"/><rect x="200.3" y="69.5" width="1.0" height="1.0" fill="#c4c4c4"/><rect x="202.2" y="68.4" width="1.0" height="1.0" fill="#c4c4c4"/><rect x="201.5" y="66.3" width="1.2" height="1.2" fill="#000"/><rect x="201.7" y="64.6" width="1.2" height="1.2" fill="#000"/><rect x="203.0" y="65.3" width="1.2" height="1.2" fill="#000"/><rect x="203.8" y="65.0" width="1.2" height="1.2" fill="#000"/><rect x="205.4" y="65.2" width="1.0" height="1.0" fill="#c4c4c4"/><rect x="207.3" y="64.0" width="1.0" height="1.0" fill="#c4c4c4"/><rect x="205.9" y="62.1" width="1.2" height="1.2" fill="#000"/><rect x="207.2" y="62.0" width="1.0" height="1.0" fill="#c4c4c4"/><rect x="207.5" y="60.5" width="1.2" height="1.2" fill="#000"/><rect x="206.2" y="59.3" width="1.2" height="1.2" fill="#000"/><rect x="207.4" y="58.7" width="1.2" height="1.2" fill="#000"/><rect x="208.8" y="57.3" width="1.0" height="1.0" fill="#c4c4c4"/><rect x="209.5" y="57.9" width="1.0" height="1.0" fill="#c4c4c4"/><rect x="210.3" y="57.6" width="1.0" height="1.0" fill="#c4c4c4"/><rect x="210.5" y="57.7" width="1.2" height="1.2" fill="#000"/><rect x="211.2" y="57.2" width="1.2" height="1.2" fill="#000"/><rect x="214.1" y="57.2" width="1.0" height="1.0" fill="#c4c4c4"/><rect x="214.9" y="56.8" width="1.0" height="1.0" fill="#c4c4c4"/><rect x="214.2" y="55.7" width="1.0" height="1.0" fill="#c4c4c4"/><rect x="212.7" y="54.1" width="1.2" height="1.2" fill="#000"/><rect x="213.6" y="53.5" width="1.2" height="1.2" fill="#000"/><rect x="215.6" y="52.2" width="1.2" height="1.2" fill="#000"/><rect x="216.9" y="53.4" width="1.0" height="1.0" fill="#c4c4c4"/><rect x="217.5" y="52.8" width="1.0" height="1.0" fill="#c4c4c4"/><rect x="217.5" y="51.3" width="1.2" height="1.2" fill="#000"/><rect x="219.5" y="51.8" width="1.0" height="1.0" fill="#c4c4c4"/><rect x="219.8" y="51.1" width="1.2" height="1.2" fill="#000"/><rect x="220.2" y="50.5" width="1.2" height="1.2" fill="#000"/><rect x="221.0" y="50.1" width="1.0" height="1.0" fill="#c4c4c4"/><rect x="222.0" y="49.2" width="1.0" height="1.0" fill="#c4c4c4"/><rect x="222.2" y="48.1" width="1.2" height="1.2" fill="#000"/><rect x="223.4" y="48.5" width="1.0" height="1.0" fill="#c4c4c4"/><rect x="223.2" y="46.9" width="1.2" height="1.2" fill="#000"/><rect x="224.0" y="46.8" width="1.2" height="1.2" fill="#000"/><rect x="225.1" y="46.8" width="1.0" height="1.0" fill="#c4c4c4"/><rect x="223.7" y="44.8" width="1.2" height="1.2" fill="#000"/><rect x="225.0" y="43.3" width="1.2" height="1.2" fill="#000"/><rect x="226.5" y="43.7" width="1.2" height="1.2" fill="#000"/><rect x="227.5" y="43.5" width="1.2" height="1.2" fill="#000"/><rect x="229.1" y="41.4" width="1.2" height="1.2" fill="#000"/><rect x="230.3" y="41.8" width="1.0" height="1.0" fill="#c4c4c4"/><rect x="231.8" y="41.3" width="1.0" height="1.0" fill="#c4c4c4"/><rect x="231.6" y="39.5" width="1.2" height="1.2" fill="#000"/><rect x="232.4" y="39.6" width="1.2" height="1.2" fill="#000"/><rect x="233.1" y="39.2" width="1.2" height="1.2" fill="#000"/><rect x="233.8" y="39.0" width="1.2" height="1.2" fill="#000"/><rect x="234.5" y="38.8" width="1.2" height="1.2" fill="#000"/><rect x="235.6" y="37.6" width="1.2" height="1.2" fill="#000"/><rect x="237.1" y="38.6" width="1.0" height="1.0" fill="#c4c4c4"/><rect x="237.2" y="37.3" width="1.2" height="1.2" fill="#000"/><rect x="238.3" y="37.4" width="1.0" height="1.0" fill="#c4c4c4"/><rect x="239.1" y="36.6" width="1.0" height="1.0" fill="#c4c4c4"/><rect x="239.6" y="35.9" width="1.0" height="1.0" fill="#c4c4c4"/><rect x="240.1" y="35.2" width="1.0" height="1.0" fill="#c4c4c4"/><rect x="240.7" y="32.5" width="1.2" height="1.2" fill="#000"/><rect x="242.2" y="33.3" width="1.0" height="1.0" fill="#c4c4c4"/><rect x="241.5" y="30.8" width="1.2" height="1.2" fill="#000"/><rect x="242.7" y="31.4" width="1.2" height="1.2" fill="#000"/><rect x="243.4" y="31.2" width="1.2" height="1.2" fill="#000"/><rect x="243.8" y="30.1" width="1.2" height="1.2" fill="#000"/><rect x="244.1" y="28.9" width="1.2" height="1.2" fill="#000"/><rect x="245.2" y="29.3" width="1.2" height="1.2" fill="#000"/><rect x="246.3" y="29.8" width="1.2" height="1.2" fill="#000"/><rect x="246.9" y="29.4" width="1.2" height="1.2" fill="#000"/><rect x="247.7" y="28.6" width="1.2" height="1.2" fill="#000"/><rect x="249.5" y="28.1" width="1.2" height="1.2" fill="#000"/><rect x="250.6" y="28.6" width="1.0" height="1.0" fill="#c4c4c4"/><rect x="250.9" y="27.4" width="1.2" height="1.2" fill="#000"/><rect x="250.7" y="25.6" width="1.2" height="1.2" fill="#000"/><rect x="252.7" y="27.3" width="1.0" height="1.0" fill="#c4c4c4"/><rect x="253.0" y="25.0" width="1.2" height="1.2" fill="#000"/><rect x="254.5" y="25.3" width="1.0" height="1.0" fill="#c4c4c4"/><rect x="255.1" y="23.4" width="1.2" height="1.2" fill="#000"/><rect x="256.0" y="23.2" width="1.2" height="1.2" fill="#000"/><rect x="257.3" y="23.3" width="1.0" height="1.0" fill="#c4c4c4"/><rect x="257.4" y="22.1" width="1.2" height="1.2" fill="#000"/><rect x="257.8" y="21.4" width="1.2" height="1.2" fill="#000"/><rect x="260.1" y="22.1" width="1.0" height="1.0" fill="#c4c4c4"/><rect x="259.1" y="19.4" width="1.2" height="1.2" fill="#000"/><rect x="261.6" y="21.3" width="1.0" height="1.0" fill="#c4c4c4"/><rect x="260.9" y="19.3" width="1.2" height="1.2" fill="#000"/><rect x="262.4" y="18.4" width="1.0" height="1.0" fill="#c4c4c4"/><rect x="263.8" y="17.7" width="1.2" height="1.2" fill="#000"/><rect x="199.9" y="65.9" width="1.2" height="1.2" fill="#000"/><rect x="188.4" y="83.6" width="1.2" height="1.2" fill="#000"/><rect x="210.4" y="57.9" width="1.2" height="1.2" fill="#000"/><text x="0.20" y="147.00" font-size="11.2" text-anchor="start" font-weight="bold">C</text><line x1="27.60" y1="147.60" x2="27.60" y2="271.30" stroke="#555" stroke-width="1"/><line x1="27.60" y1="271.30" x2="249.70" y2="271.30" stroke="#555" stroke-width="1"/><line x1="25.60" y1="149.60" x2="27.60" y2="149.60" stroke="#555" stroke-width="0.8"/><text x="23.80" y="151.20" font-size="4.6" text-anchor="end" fill="#333" stroke="#333" stroke-width="0.06">35</text><line x1="25.60" y1="165.50" x2="27.60" y2="165.50" stroke="#555" stroke-width="0.8"/><text x="23.80" y="167.10" font-size="4.6" text-anchor="end" fill="#333" stroke="#333" stroke-width="0.06">30</text><line x1="25.60" y1="183.00" x2="27.60" y2="183.00" stroke="#555" stroke-width="0.8"/><text x="23.80" y="184.60" font-size="4.6" text-anchor="end" fill="#333" stroke="#333" stroke-width="0.06">25</text><line x1="25.60" y1="200.40" x2="27.60" y2="200.40" stroke="#555" stroke-width="0.8"/><text x="23.80" y="202.00" font-size="4.6" text-anchor="end" fill="#333" stroke="#333" stroke-width="0.06">20</text><line x1="25.60" y1="218.50" x2="27.60" y2="218.50" stroke="#555" stroke-width="0.8"/><text x="23.80" y="220.10" font-size="4.6" text-anchor="end" fill="#333" stroke="#333" stroke-width="0.06">15</text><line x1="25.60" y1="236.40" x2="27.60" y2="236.40" stroke="#555" stroke-width="0.8"/><text x="23.80" y="238.00" font-size="4.6" text-anchor="end" fill="#333" stroke="#333" stroke-width="0.06">10</text><line x1="25.60" y1="253.50" x2="27.60" y2="253.50" stroke="#555" stroke-width="0.8"/><text x="23.80" y="255.10" font-size="4.6" text-anchor="end" fill="#333" stroke="#333" stroke-width="0.06">5</text><line x1="25.60" y1="271.30" x2="27.60" y2="271.30" stroke="#555" stroke-width="0.8"/><text x="23.80" y="272.90" font-size="4.6" text-anchor="end" fill="#333" stroke="#333" stroke-width="0.06">0</text><rect x="32.60" y="267.30" width="7.20" height="4.00" fill="#fff" stroke="#666" stroke-width="0.6"/><rect x="39.80" y="251.00" width="7.30" height="20.30" fill="#3454b4" stroke="#22357e" stroke-width="0.6"/><rect x="47.10" y="263.70" width="6.90" height="7.60" fill="#ea1f27" stroke="#b81018" stroke-width="0.5"/><rect x="64.70" y="267.30" width="6.80" height="4.00" fill="#fff" stroke="#666" stroke-width="0.6"/><rect x="71.50" y="250.00" width="7.20" height="21.30" fill="#3454b4" stroke="#22357e" stroke-width="0.6"/><rect x="78.70" y="258.60" width="7.30" height="12.70" fill="#ea1f27" stroke="#b81018" stroke-width="0.5"/><rect x="96.60" y="267.30" width="6.60" height="4.00" fill="#fff" stroke="#666" stroke-width="0.6"/><rect x="103.20" y="233.80" width="7.00" height="37.50" fill="#3454b4" stroke="#22357e" stroke-width="0.6"/><rect x="110.20" y="255.20" width="7.50" height="16.10" fill="#ea1f27" stroke="#b81018" stroke-width="0.5"/><rect x="127.80" y="267.30" width="7.20" height="4.00" fill="#fff" stroke="#666" stroke-width="0.6"/><rect x="135.00" y="254.00" width="6.90" height="17.30" fill="#3454b4" stroke="#22357e" stroke-width="0.6"/><rect x="141.90" y="263.50" width="6.90" height="7.80" fill="#ea1f27" stroke="#b81018" stroke-width="0.5"/><rect x="159.60" y="267.30" width="6.80" height="4.00" fill="#fff" stroke="#666" stroke-width="0.6"/><rect x="166.40" y="153.40" width="7.40" height="117.90" fill="#3454b4" stroke="#22357e" stroke-width="0.6"/><rect x="173.80" y="248.40" width="7.20" height="22.90" fill="#ea1f27" stroke="#b81018" stroke-width="0.5"/><rect x="191.20" y="267.30" width="7.10" height="4.00" fill="#fff" stroke="#666" stroke-width="0.6"/><rect x="198.30" y="249.90" width="7.40" height="21.40" fill="#3454b4" stroke="#22357e" stroke-width="0.6"/><rect x="205.70" y="256.50" width="6.80" height="14.80" fill="#ea1f27" stroke="#b81018" stroke-width="0.5"/><rect x="223.30" y="267.30" width="6.80" height="4.00" fill="#fff" stroke="#666" stroke-width="0.6"/><rect x="230.10" y="250.90" width="7.20" height="20.40" fill="#3454b4" stroke="#22357e" stroke-width="0.6"/><rect x="237.30" y="261.30" width="7.00" height="10.00" fill="#ea1f27" stroke="#b81018" stroke-width="0.5"/><text x="43.45" y="276.90" font-size="5.2" text-anchor="middle" fill="#111" stroke="#111" stroke-width="0.06">chemokine and</text><text x="43.45" y="281.60" font-size="5.2" text-anchor="middle" fill="#111" stroke="#111" stroke-width="0.06">cytokine signaling</text><text x="77.40" y="276.90" font-size="5.2" text-anchor="middle" fill="#111" stroke="#111" stroke-width="0.06">Apoptosis</text><text x="77.40" y="281.60" font-size="5.2" text-anchor="middle" fill="#111" stroke="#111" stroke-width="0.06">signaling</text><text x="107.60" y="276.90" font-size="5.2" text-anchor="middle" fill="#111" stroke="#111" stroke-width="0.06">FAS</text><text x="107.60" y="281.60" font-size="5.2" text-anchor="middle" fill="#111" stroke="#111" stroke-width="0.06">signaling</text><text x="138.95" y="276.90" font-size="5.2" text-anchor="middle" fill="#111" stroke="#111" stroke-width="0.06">T cell</text><text x="138.95" y="281.60" font-size="5.2" text-anchor="middle" fill="#111" stroke="#111" stroke-width="0.06">activation</text><text x="171.25" y="276.90" font-size="5.2" text-anchor="middle" fill="#111" stroke="#111" stroke-width="0.06">Folate</text><text x="171.25" y="281.60" font-size="5.2" text-anchor="middle" fill="#111" stroke="#111" stroke-width="0.06">biosynthesis</text><text x="201.90" y="276.90" font-size="5.2" text-anchor="middle" fill="#111" stroke="#111" stroke-width="0.06">p53</text><text x="201.90" y="281.60" font-size="5.2" text-anchor="middle" fill="#111" stroke="#111" stroke-width="0.06">feedback</text><text x="233.95" y="276.90" font-size="5.2" text-anchor="middle" fill="#111" stroke="#111" stroke-width="0.06">Toll receptor</text><text x="233.95" y="281.60" font-size="5.2" text-anchor="middle" fill="#111" stroke="#111" stroke-width="0.06">signaling</text><rect x="35.60" y="152.20" width="8.30" height="5.40" fill="#fff" stroke="#555" stroke-width="0.8"/><rect x="35.60" y="161.30" width="8.30" height="5.00" fill="#3553b0" stroke="#2a3f8a" stroke-width="0.5"/><rect x="35.60" y="170.90" width="8.50" height="5.00" fill="#ea1f27" stroke="#c01018" stroke-width="0.5"/><text x="46.80" y="156.10" font-size="5.1" text-anchor="start" fill="#111" stroke="#111" stroke-width="0.06" textLength="45.4" lengthAdjust="spacingAndGlyphs">control list (set as 1)</text><text x="46.80" y="165.20" font-size="5.1" text-anchor="start" fill="#111" stroke="#111" stroke-width="0.06" textLength="94.1" lengthAdjust="spacingAndGlyphs">Regulated and 2-fold induced (274 genes)</text><text x="46.80" y="175.40" font-size="5.1" text-anchor="start" fill="#111" stroke="#111" stroke-width="0.06" textLength="68.8" lengthAdjust="spacingAndGlyphs">Regulated genes (3878 genes)</text><text x="5.90" y="245.90" font-size="6.1" text-anchor="start" fill="#111" stroke="#111" stroke-width="0.06" textLength="74.7" lengthAdjust="spacingAndGlyphs" transform="rotate(-90 5.90 245.90)">Pathway overrepresentation</text><text x="14.00" y="258.10" font-size="6.1" text-anchor="start" fill="#111" stroke="#111" stroke-width="0.06" textLength="100.1" lengthAdjust="spacingAndGlyphs" transform="rotate(-90 14.00 258.10)">(fold compared to reference gene list)</text><text x="261.60" y="147.80" font-size="11.2" text-anchor="start" font-weight="bold">D</text><line x1="303.20" y1="173.50" x2="303.20" y2="269.30" stroke="#666" stroke-width="1"/><line x1="303.20" y1="269.30" x2="520.00" y2="269.30" stroke="#666" stroke-width="1"/><text x="299.20" y="177.70" font-size="6.8" text-anchor="end" font-weight="bold" fill="#111">10 000 000</text><text x="299.20" y="189.20" font-size="6.8" text-anchor="end" font-weight="bold" fill="#111">1 000 000</text><text x="299.20" y="201.00" font-size="6.8" text-anchor="end" font-weight="bold" fill="#111">100 000</text><text x="299.20" y="212.80" font-size="6.8" text-anchor="end" font-weight="bold" fill="#111">10 000</text><text x="299.20" y="224.50" font-size="6.8" text-anchor="end" font-weight="bold" fill="#111">1000</text><text x="299.20" y="236.30" font-size="6.8" text-anchor="end" font-weight="bold" fill="#111">100</text><text x="299.20" y="248.20" font-size="6.8" text-anchor="end" font-weight="bold" fill="#111">10</text><text x="299.20" y="260.00" font-size="6.8" text-anchor="end" font-weight="bold" fill="#111">1</text><text x="299.20" y="271.40" font-size="6.8" text-anchor="end" font-weight="bold" fill="#111">0.1</text><text x="270.30" y="249.80" font-size="8.1" text-anchor="start" font-weight="bold" fill="#111" textLength="55.9" lengthAdjust="spacingAndGlyphs" transform="rotate(-90 270.30 249.80)">Fold Induction</text><rect x="307.40" y="258.00" width="6.10" height="11.30" fill="#d8d9dd" stroke="#555" stroke-width="0.5"/><rect x="313.50" y="239.80" width="6.10" height="29.50" fill="#000" stroke="#000" stroke-width="0.5"/><rect x="319.60" y="240.30" width="6.10" height="29.00" fill="#a3a4a9" stroke="#333" stroke-width="0.5"/><rect x="334.30" y="258.00" width="6.10" height="11.30" fill="#d8d9dd" stroke="#555" stroke-width="0.5"/><rect x="340.40" y="250.90" width="6.10" height="18.40" fill="#000" stroke="#000" stroke-width="0.5"/><rect x="346.50" y="236.30" width="6.10" height="33.00" fill="#a3a4a9" stroke="#333" stroke-width="0.5"/><rect x="361.20" y="258.00" width="6.10" height="11.30" fill="#d8d9dd" stroke="#555" stroke-width="0.5"/><rect x="367.30" y="239.60" width="6.10" height="29.70" fill="#000" stroke="#000" stroke-width="0.5"/><rect x="373.40" y="227.90" width="6.10" height="41.40" fill="#a3a4a9" stroke="#333" stroke-width="0.5"/><rect x="388.60" y="258.00" width="6.10" height="11.30" fill="#d8d9dd" stroke="#555" stroke-width="0.5"/><rect x="394.70" y="241.60" width="6.10" height="27.70" fill="#000" stroke="#000" stroke-width="0.5"/><rect x="400.80" y="213.80" width="6.10" height="55.50" fill="#a3a4a9" stroke="#333" stroke-width="0.5"/><rect x="415.30" y="258.00" width="6.10" height="11.30" fill="#d8d9dd" stroke="#555" stroke-width="0.5"/><rect x="421.40" y="185.30" width="6.10" height="84.00" fill="#000" stroke="#000" stroke-width="0.5"/><rect x="427.50" y="181.00" width="6.10" height="88.30" fill="#a3a4a9" stroke="#333" stroke-width="0.5"/><rect x="442.20" y="258.00" width="6.10" height="11.30" fill="#d8d9dd" stroke="#555" stroke-width="0.5"/><rect x="448.30" y="248.50" width="6.10" height="20.80" fill="#000" stroke="#000" stroke-width="0.5"/><rect x="454.40" y="234.70" width="6.10" height="34.60" fill="#a3a4a9" stroke="#333" stroke-width="0.5"/><rect x="469.20" y="258.00" width="6.10" height="11.30" fill="#d8d9dd" stroke="#555" stroke-width="0.5"/><rect x="475.30" y="239.50" width="6.10" height="29.80" fill="#000" stroke="#000" stroke-width="0.5"/><rect x="481.40" y="224.70" width="6.10" height="44.60" fill="#a3a4a9" stroke="#333" stroke-width="0.5"/><rect x="496.10" y="258.00" width="6.10" height="11.30" fill="#d8d9dd" stroke="#555" stroke-width="0.5"/><rect x="502.20" y="215.90" width="6.10" height="53.40" fill="#000" stroke="#000" stroke-width="0.5"/><rect x="508.30" y="209.00" width="6.10" height="60.30" fill="#a3a4a9" stroke="#333" stroke-width="0.5"/><text x="305.50" y="279.90" font-size="7.0" text-anchor="start" font-weight="bold" fill="#111" textLength="18.1" lengthAdjust="spacingAndGlyphs">ATF5</text><text x="328.50" y="279.90" font-size="7.0" text-anchor="start" font-weight="bold" fill="#111" textLength="25.9" lengthAdjust="spacingAndGlyphs">C/EBP<tspan font-weight="normal">&#948;</tspan></text><text x="356.40" y="279.90" font-size="7.0" text-anchor="start" font-weight="bold" fill="#111" textLength="29.4" lengthAdjust="spacingAndGlyphs">CTAG1A</text><text x="387.20" y="279.90" font-size="7.0" text-anchor="start" font-weight="bold" fill="#111" textLength="25.7" lengthAdjust="spacingAndGlyphs">S100A9</text><text x="415.50" y="279.90" font-size="7.0" text-anchor="start" font-weight="bold" fill="#111" textLength="16.9" lengthAdjust="spacingAndGlyphs">TKL1</text><text x="442.60" y="279.90" font-size="7.0" text-anchor="start" font-weight="bold" fill="#111" textLength="18.4" lengthAdjust="spacingAndGlyphs">LKN1</text><text x="470.70" y="279.90" font-size="7.0" text-anchor="start" font-weight="bold" fill="#111" textLength="17.2" lengthAdjust="spacingAndGlyphs">TCF4</text><text x="493.20" y="279.90" font-size="7.0" text-anchor="start" font-weight="bold" fill="#111" textLength="25.3" lengthAdjust="spacingAndGlyphs">Clade F</text><rect x="309.40" y="170.80" width="5.20" height="5.10" fill="#d0d0d4" stroke="#777" stroke-width="0.6"/><rect x="309.40" y="186.20" width="5.20" height="5.00" fill="#000"/><rect x="309.40" y="200.90" width="5.20" height="5.20" fill="#a3a4a9" stroke="#888" stroke-width="0.5"/><text x="318.80" y="176.50" font-size="9.6" text-anchor="start" fill="#111" stroke="#111" stroke-width="0.2">untreated</text><text x="318.80" y="191.70" font-size="9.6" text-anchor="start" fill="#111" stroke="#111" stroke-width="0.2">Aza 2 days</text><text x="318.80" y="206.60" font-size="9.6" text-anchor="start" fill="#111" stroke="#111" stroke-width="0.2">Aza 6 days</text></svg></body></html>
